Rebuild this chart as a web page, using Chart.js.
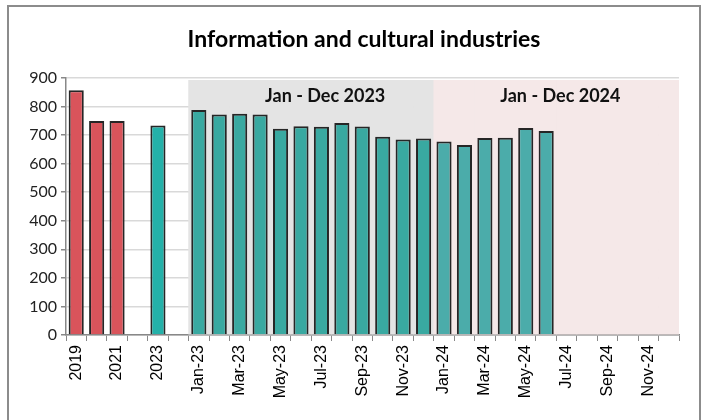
<!DOCTYPE html>
<html>
<head>
<meta charset="utf-8">
<script src="https://cdn.jsdelivr.net/npm/chart.js@4"></script>
<style>
  html, body { margin: 0; padding: 0; background: #fff; }
  #wrap { position: relative; width: 709px; height: 420px; }
  #frame { position: absolute; left: 7px; top: 5px; width: 694px; height: 420px; border: 2px solid #8c8c8c; box-sizing: border-box; pointer-events: none; }
  canvas { position: absolute; left: 0; top: 0; }
</style>
</head>
<body>
<div id="wrap">
  <canvas id="c" width="709" height="420"></canvas>
  <div id="frame"></div>
</div>
<script>
const chartTitle = "Information and cultural industries";
const categories = ["2019","2020","2021","","2023","",
  "Jan-23","Feb-23","Mar-23","Apr-23","May-23","Jun-23","Jul-23","Aug-23","Sep-23","Oct-23","Nov-23","Dec-23",
  "Jan-24","Feb-24","Mar-24","Apr-24","May-24","Jun-24","Jul-24","Aug-24","Sep-24","Oct-24","Nov-24","Dec-24"];
const values = [857, 749, 749, null, 734, null,
  788, 772, 775, 772, 722, 731, 729, 742, 730, 694, 685, 688,
  678, 665, 690, 691, 725, 714, null, null, null, null, null, null];
const band2023 = categories.map((c) => (c.endsWith("-23") ? 892 : null));
const band2024 = categories.map((c) => (c.endsWith("-24") ? 892 : null));
const bandLabels = ["Jan - Dec 2023", "Jan - Dec 2024"];
const yTicks = [0,100,200,300,400,500,600,700,800,900];

const barColors = categories.map((c) => {
  if (/^20(19|20|21)$/.test(c)) return "#d9545b";
  if (c === "2023") return "#24b1a9";
  if (c.endsWith("-23")) return "#39a9a1";
  return "#4bacaa";
});

const textPlugin = {
  id: "chartTexts",
  afterDatasetsDraw(chart) {
    const { ctx, scales: { x, y } } = chart;
    ctx.save();
    ctx.fillStyle = "#000";
    ctx.textAlign = "center";
    ctx.textBaseline = "middle";
    ctx.font = "bold 23px Lato, 'Open Sans', sans-serif";
    ctx.fillText(chartTitle, 364, 40);
    ctx.font = "bold 18px Lato, 'Open Sans', sans-serif";
    ctx.fillStyle = "#111";
    const ranges = [[6, 17], [18, 29]];
    ranges.forEach((r, k) => {
      const cx = (x.getPixelForValue(r[0]) + x.getPixelForValue(r[1])) / 2 + (k === 0 ? 14 : 4);
      ctx.fillText(bandLabels[k], cx, y.getPixelForValue(835));
    });
    ctx.restore();
  }
};

new Chart(document.getElementById("c"), {
  type: "bar",
  data: {
    labels: categories,
    datasets: [
      { data: values, backgroundColor: barColors, borderColor: "#262626", borderWidth: 2,
        barPercentage: 0.74, categoryPercentage: 1, grouped: false, order: 1 },
      { data: band2023, backgroundColor: "#e4e4e4", borderWidth: 0,
        barPercentage: 1, categoryPercentage: 1, grouped: false, order: 3 },
      { data: band2024, backgroundColor: "#f5e8e8", borderWidth: 0,
        barPercentage: 1, categoryPercentage: 1, grouped: false, order: 2 }
    ]
  },
  options: {
    responsive: false,
    animation: false,
    layout: { padding: { left: 10, right: 30, top: 78, bottom: 0 } },
    plugins: {
      legend: { display: false },
      tooltip: { enabled: false },
      title: { display: false }
    },
    scales: {
      x: {
        grid: { display: true, offset: true, drawOnChartArea: false, drawTicks: true, tickLength: 6, color: "#888" },
        border: { display: true, color: "#888", width: 1.5 },
        ticks: {
          autoSkip: false, maxRotation: 90, minRotation: 90, padding: 4,
          color: "#000", font: { family: "'Liberation Sans', Arial, sans-serif", size: 16 },
          callback: function(v, i) { return i % 2 === 0 ? categories[i] : ""; }
        },
        afterFit(s) { s.height = 85; }
      },
      y: {
        min: 0, max: 900,
        afterBuildTicks(s) { s.ticks = yTicks.map(v => ({ value: v })); },
        grid: { color: "#d9d9d9", lineWidth: 1.5, tickLength: 5, tickColor: "#888" },
        border: { display: true, color: "#888", width: 1.5 },
        ticks: { color: "#222", padding: 4, font: { family: "Lato, 'Open Sans', sans-serif", size: 16 } },
        afterFit(s) { s.width = 56; }
      }
    }
  },
  plugins: [textPlugin]
});
</script>
</body>
</html>
